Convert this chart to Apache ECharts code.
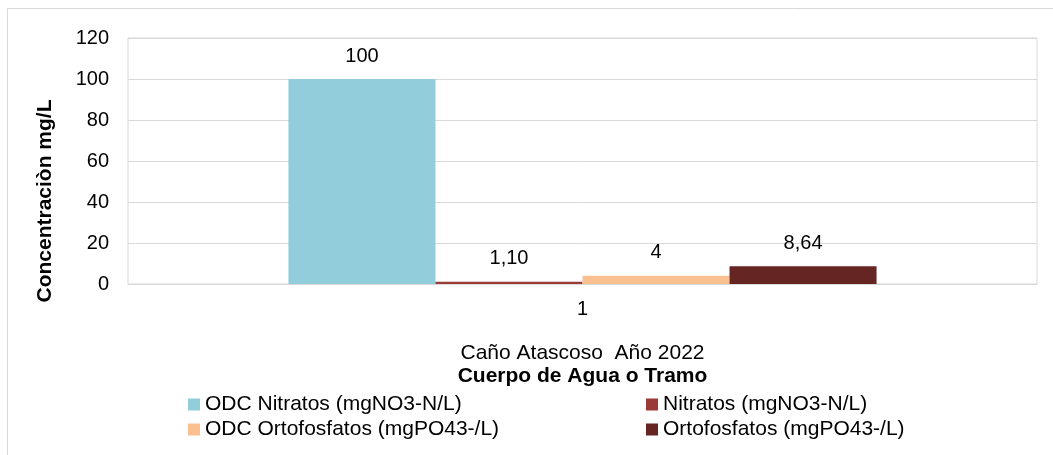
<!DOCTYPE html>
<html>
<head>
<meta charset="utf-8">
<script src="https://cdn.jsdelivr.net/npm/echarts@6/dist/echarts.min.js"></script>
<style>
html,body{margin:0;padding:0;background:#fff;}
#c{width:1053px;height:455px;}
</style>
</head>
<body>
<div id="c"></div>
<script>
const categories = ['1'];
const seriesNames = ['ODC Nitratos (mgNO3-N/L)', 'Nitratos (mgNO3-N/L)', 'ODC Ortofosfatos (mgPO43-/L)', 'Ortofosfatos (mgPO43-/L)'];
const seriesValues = [100, 1.10, 4, 8.64];
const valueLabels = ['100', '1,10', '4', '8,64'];
const seriesColors = ['#92CDDC', '#9B3B38', '#FAC090', '#652523'];
const yTicks = { min: 0, max: 120, interval: 20 };
const xAxisTitle1 = 'Caño Atascoso  Año 2022';
const xAxisTitle2 = 'Cuerpo de Agua o Tramo';
const yAxisTitle = 'Concentraciòn mg/L';

const FONT = 'Liberation Sans, Arial, sans-serif';
const chart = echarts.init(document.getElementById('c'), null, {renderer: 'canvas'});

const series = seriesNames.map((n, i) => ({
  name: n,
  type: 'bar',
  data: [seriesValues[i]],
  itemStyle: { color: seriesColors[i] },
  barGap: '0%',
  barCategoryGap: '35.3%',
  label: {
    show: true,
    position: 'top',
    distance: 13,
    color: '#000',
    fontFamily: FONT,
    fontSize: 20,
    formatter: () => valueLabels[i]
  }
}));

const legendText = { color: '#000', fontFamily: FONT, fontSize: 21 };

chart.setOption({
  animation: false,
  backgroundColor: '#fff',
  grid: { left: 128, right: 16, top: 38, bottom: 171, show: true, borderColor: '#d9d9d9', borderWidth: 1 },
  xAxis: {
    type: 'category',
    data: categories,
    axisLine: { lineStyle: { color: '#d9d9d9' } },
    axisTick: { show: false },
    axisLabel: { color: '#000', fontFamily: FONT, fontSize: 20, margin: 15 },
    name: '{a|' + xAxisTitle1 + '}\n{b|' + xAxisTitle2 + '}',
    nameLocation: 'middle',
    nameGap: 58,
    nameTextStyle: {
      rich: {
        a: { color: '#000', fontFamily: FONT, fontSize: 21, lineHeight: 23 },
        b: { color: '#000', fontFamily: FONT, fontSize: 21, fontWeight: 'bold', lineHeight: 23 }
      }
    }
  },
  yAxis: {
    type: 'value',
    min: yTicks.min,
    max: yTicks.max,
    interval: yTicks.interval,
    axisLine: { show: false },
    axisTick: { show: false },
    splitLine: { lineStyle: { color: '#d9d9d9', width: 1 } },
    axisLabel: { color: '#000', fontFamily: FONT, fontSize: 20, margin: 19 }
  },
  legend: [
    {
      orient: 'vertical',
      left: 188,
      top: 394,
      padding: 0,
      itemWidth: 12,
      itemHeight: 12,
      itemGap: 4,
      icon: 'rect',
      textStyle: legendText,
      data: [seriesNames[0], seriesNames[2]]
    },
    {
      orient: 'vertical',
      left: 646,
      top: 394,
      padding: 0,
      itemWidth: 12,
      itemHeight: 12,
      itemGap: 4,
      icon: 'rect',
      textStyle: legendText,
      data: [seriesNames[1], seriesNames[3]]
    }
  ],
  graphic: [
    {
      type: 'rect',
      silent: true,
      shape: { x: 7.5, y: 8.5, width: 1100, height: 500 },
      style: { fill: 'none', stroke: '#d9d9d9', lineWidth: 1 },
      z: -10
    },
    {
      type: 'text',
      silent: true,
      x: 45,
      y: 201,
      rotation: Math.PI / 2,
      style: {
        text: yAxisTitle,
        fill: '#000',
        font: 'bold 21px ' + FONT,
        textAlign: 'center',
        textVerticalAlign: 'middle'
      }
    }
  ],
  series: series
});
</script>
</body>
</html>
